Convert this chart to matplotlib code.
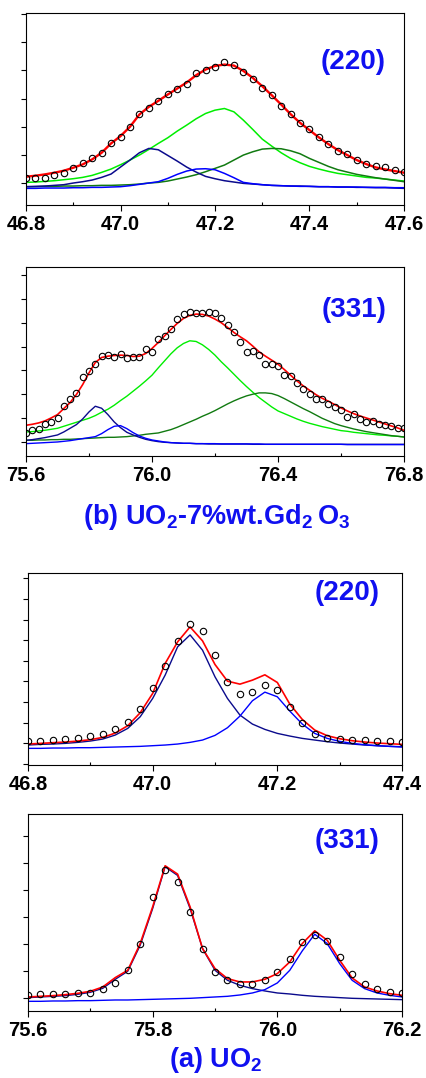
import numpy as np
import matplotlib
matplotlib.use('Agg')
import matplotlib.pyplot as plt
from matplotlib.ticker import MultipleLocator, FormatStrFormatter

plt.rcParams['font.family'] = ['Liberation Sans', 'DejaVu Sans']
plt.rcParams['font.weight'] = 'bold'
plt.rcParams['mathtext.default'] = 'regular'

# ---- (b) UO2-7%wt.Gd2O3, (220) ----
x1 = [46.80, 46.82, 46.84, 46.86, 46.88, 46.90, 46.92, 46.94, 46.96, 46.98,
      47.00, 47.02, 47.04, 47.06, 47.08, 47.10, 47.12, 47.14, 47.16, 47.18,
      47.20, 47.22, 47.24, 47.26, 47.28, 47.30, 47.32, 47.34, 47.36, 47.38,
      47.40, 47.42, 47.44, 47.46, 47.48, 47.50, 47.52, 47.54, 47.56, 47.58, 47.60]
obs1 = [15, 15, 17, 25, 32, 45, 60, 75, 90, 122, 140, 170, 208, 228, 248, 270, 285, 300, 332, 340,
        350, 365, 355, 335, 313, 288, 265, 233, 208, 182, 163, 140, 118, 98, 87, 70, 58, 53, 48, 40, 33]
fit1 = [20, 23, 27, 32, 38, 47, 57, 72, 92, 120, 142, 170, 207, 230, 248, 267, 285, 303, 325, 342,
        353, 357, 354, 338, 317, 292, 265, 237, 208, 182, 160, 138, 118, 100, 85, 70, 58, 48, 42, 37, 32]
green1 = [3, 4, 6, 8, 11, 14, 18, 24, 33, 43, 56, 70, 85, 102, 120, 137, 157, 175, 194, 210,
          220, 225, 215, 190, 162, 133, 112, 92, 75, 62, 51, 43, 36, 30, 26, 22, 18, 16, 13, 10, 7]
dgreen1 = [-10, -10, -9, -9, -8, -8, -7, -7, -6, -6, -5, -4, -2, 1, 3, 7, 13, 19, 26, 35,
           45, 55, 70, 85, 95, 103, 105, 104, 98, 89, 75, 63, 51, 41, 34, 27, 22, 17, 13, 9, 5]
navy1 = [-10, -9, -8, -6, -4, 1, 5, 10, 18, 28, 49, 70, 92, 105, 101, 84, 67, 49, 34, 21,
         14, 8, 4, 0, -2, -4, -6, -7, -8, -8, -9, -10, -10, -11, -11, -12, -12, -13, -13, -14, -15]
blue1 = [-15, -15, -14, -14, -14, -13, -13, -12, -12, -11, -10, -7, -3, 1, 5, 15, 27, 37, 43, 44,
         41, 30, 17, 3, -1, -4, -6, -7, -8, -9, -9, -10, -10, -11, -11, -11, -12, -12, -12, -13, -13]

# ---- (b) UO2-7%wt.Gd2O3, (331) ----
x2 = [75.60, 75.62, 75.64, 75.66, 75.68, 75.70, 75.72, 75.74, 75.76, 75.78,
      75.80, 75.82, 75.84, 75.86, 75.88, 75.90, 75.92, 75.94, 75.96, 75.98,
      76.00, 76.02, 76.04, 76.06, 76.08, 76.10, 76.12, 76.14, 76.16, 76.18,
      76.20, 76.22, 76.24, 76.26, 76.28, 76.30, 76.32, 76.34, 76.36, 76.38,
      76.40, 76.42, 76.44, 76.46, 76.48, 76.50, 76.52, 76.54, 76.56, 76.58,
      76.60, 76.62, 76.64, 76.66, 76.68, 76.70, 76.72, 76.74, 76.76, 76.78, 76.80]
obs2 = [28, 35, 38, 53, 60, 73, 107, 130, 148, 195, 212, 233, 258, 259, 253, 263, 250, 253, 255, 278,
        270, 308, 318, 338, 367, 382, 388, 387, 385, 388, 385, 370, 350, 330, 298, 270, 272, 260, 233, 235,
        228, 202, 197, 177, 160, 143, 130, 128, 115, 105, 97, 75, 83, 68, 60, 63, 55, 50, 47, 43, 43]
fit2 = [50, 53, 57, 63, 72, 82, 100, 118, 142, 172, 207, 238, 253, 257, 259, 260, 259, 256, 257, 265,
        280, 298, 318, 337, 355, 370, 379, 383, 382, 377, 368, 357, 343, 328, 315, 303, 287, 270, 257, 245,
        233, 217, 200, 183, 168, 155, 142, 131, 122, 112, 102, 93, 85, 78, 72, 66, 60, 54, 48, 42, 35]
green2 = [30, 31, 33, 35, 38, 41, 47, 53, 59, 65, 71, 79, 89, 98, 110, 124, 137, 152, 167, 183,
          200, 222, 243, 264, 282, 295, 303, 301, 291, 277, 260, 240, 222, 203, 184, 166, 149, 133, 119, 105,
          93, 85, 77, 69, 62, 56, 51, 46, 42, 38, 34, 32, 29, 27, 25, 23, 21, 20, 18, 17, 15]
dgreen2 = [5, 5, 6, 6, 7, 7, 8, 8, 9, 10, 11, 12, 13, 14, 14, 15, 16, 18, 20, 23,
           25, 27, 32, 37, 44, 52, 60, 68, 77, 85, 94, 104, 114, 123, 131, 138, 143, 147, 147, 145,
           139, 130, 120, 110, 100, 91, 81, 71, 63, 55, 49, 44, 39, 35, 31, 28, 25, 22, 19, 17, 15]
navy2 = [5, 7, 10, 13, 17, 21, 30, 41, 52, 69, 90, 107, 101, 82, 60, 43, 29, 21, 14, 8,
         4, 1, -1, -2, -3, -4, -4, -5, -5, -6, -6, -6, -6, -6, -6, -6, -7, -7, -7, -7,
         -7, -7, -7, -7, -7, -7, -7, -7, -7, -7, -7, -7, -7, -7, -7, -7, -7, -7, -7, -7, -7]
blue2 = [-5, -4, -3, -2, -1, 0, 2, 4, 7, 10, 13, 16, 25, 37, 47, 49, 40, 28, 18, 11,
         6, 3, 0, -2, -3, -4, -4, -5, -5, -5, -5, -6, -6, -6, -6, -6, -6, -6, -7, -7,
         -7, -7, -7, -7, -7, -7, -7, -7, -7, -7, -7, -8, -8, -8, -8, -8, -8, -8, -8, -8, -8]

# ---- (a) UO2, (220) ----
x3 = [46.80, 46.82, 46.84, 46.86, 46.88, 46.90, 46.92, 46.94, 46.96, 46.98,
      47.00, 47.02, 47.04, 47.06, 47.08, 47.10, 47.12, 47.14, 47.16, 47.18,
      47.20, 47.22, 47.24, 47.26, 47.28, 47.30, 47.32, 47.34, 47.36, 47.38, 47.40]
obs3 = [7, 8, 11, 13, 16, 21, 29, 43, 65, 103, 167, 232, 308, 360, 337, 266, 184, 147, 155, 175,
        160, 110, 60, 27, 16, 12, 10, 9, 8, 6, 5]
fit3 = [-2, 0, 2, 4, 7, 11, 18, 31, 53, 92, 150, 240, 305, 350, 308, 237, 187, 178, 190, 206,
        183, 118, 72, 40, 23, 14, 8, 4, 1, -1, -3]
navy3 = [-5, -3, -2, 0, 3, 7, 13, 25, 45, 80, 135, 205, 290, 326, 280, 200, 135, 85, 58, 42,
         30, 22, 15, 10, 5, 1, -2, -5, -7, -9, -10]
blue3 = [-15, -15, -14, -14, -13, -13, -12, -11, -10, -9, -7, -5, -2, 3, 10, 24, 47, 82, 128, 154,
         140, 97, 58, 30, 15, 6, 0, -4, -7, -9, -11]

# ---- (a) UO2, (331) ----
x4 = [75.60, 75.62, 75.64, 75.66, 75.68, 75.70, 75.72, 75.74, 75.76, 75.78,
      75.80, 75.82, 75.84, 75.86, 75.88, 75.90, 75.92, 75.94, 75.96, 75.98,
      76.00, 76.02, 76.04, 76.06, 76.08, 76.10, 76.12, 76.14, 76.16, 76.18, 76.20]
obs4 = [10, 11, 11, 13, 15, 16, 27, 45, 85, 163, 303, 383, 348, 258, 146, 78, 53, 43, 43, 53,
        78, 118, 168, 188, 171, 123, 73, 42, 27, 19, 15]
fit4 = [3, 5, 7, 10, 14, 20, 33, 61, 83, 163, 273, 396, 371, 273, 148, 88, 58, 48, 48, 56,
        73, 108, 163, 201, 173, 113, 60, 33, 21, 13, 8]
navy4 = [1, 3, 5, 7, 11, 17, 29, 56, 80, 158, 268, 393, 367, 268, 148, 83, 53, 38, 28, 21,
         15, 12, 8, 5, 3, 1, -1, -2, -3, -4, -5]
blue4 = [-10, -10, -9, -9, -8, -8, -7, -6, -6, -5, -4, -3, -2, -1, 1, 3, 5, 9, 15, 25,
         45, 83, 141, 191, 163, 103, 53, 28, 15, 8, 3]

RED = '#ff0000'
NAVY = '#0a0a8c'
BLUE = '#0000ff'
LGREEN = '#00ee00'
DGREEN = '#117a11'
TXT = '#1010f0'

W, H = 426, 1078
fig = plt.figure(figsize=(W / 100, H / 100), dpi=100)


def rect(l, t, r, b):
    return [l / W, 1 - b / H, (r - l) / W, (b - t) / H]


def panel(box, x, obs, fit, comps, xlim, major, ylim, ystep, red_lw, comp_lw):
    ax = fig.add_axes(rect(*box))
    for y, c in comps:
        ax.plot(x, y, color=c, lw=comp_lw)
    ax.plot(x, fit, color=RED, lw=red_lw)
    ax.plot(x, obs, 'o', mfc='none', mec='black', ms=4.6, mew=0.8)
    ax.set_xlim(xlim)
    ax.set_ylim(ylim)
    ax.xaxis.set_major_locator(MultipleLocator(major))
    ax.xaxis.set_minor_locator(MultipleLocator(major / 2))
    ax.xaxis.set_major_formatter(FormatStrFormatter('%.1f'))
    ax.yaxis.set_major_locator(MultipleLocator(ystep))
    ax.tick_params(axis='x', which='major', direction='out', length=4, width=0.8,
                   labelsize=14.5, pad=3)
    ax.tick_params(axis='x', which='minor', direction='in', length=2.5, width=0.8)
    ax.tick_params(axis='y', which='major', direction='out', length=3.5, width=0.8,
                   labelleft=False)
    for s in ax.spines.values():
        s.set_linewidth(0.8)
    return ax


panel((26, 13, 404, 205), x1, obs1, fit1,
      [(green1, LGREEN), (dgreen1, DGREEN), (navy1, NAVY), (blue1, BLUE)],
      (46.8, 47.6), 0.2, (-65, 512), 85, 1.7, 1.1)
panel((26, 267, 404, 456), x2, obs2, fit2,
      [(green2, LGREEN), (dgreen2, DGREEN), (navy2, NAVY), (blue2, BLUE)],
      (75.6, 76.8), 0.4, (-42, 524), 71.4, 1.2, 1.0)
panel((28, 573, 402, 765), x3, obs3, fit3,
      [(navy3, NAVY), (blue3, BLUE)],
      (46.8, 47.4), 0.2, (-65, 512), 62, 1.2, 1.0)
panel((28, 814, 402, 1011), x4, obs4, fit4,
      [(navy4, NAVY), (blue4, BLUE)],
      (75.6, 76.2), 0.2, (-39, 551), 81, 1.2, 1.0)

labels = [('(220)', 353, 69), ('(331)', 354, 317), ('(220)', 347, 600), ('(331)', 347, 848)]
for s, px, py in labels:
    fig.text(px / W, 1 - py / H, s, color=TXT, fontsize=20, fontweight='bold',
             ha='center', va='baseline')

fig.text(217 / W, 1 - 524 / H, r'(b) UO$_2$-7%wt.Gd$_2\,$O$_3$', color=TXT, fontsize=19.5,
         fontweight='bold', ha='center', va='baseline')
fig.text(216 / W, 1 - 1067 / H, '(a) UO$_2$', color=TXT, fontsize=19.5,
         fontweight='bold', ha='center', va='baseline')

fig.savefig('out.png', dpi=100)
